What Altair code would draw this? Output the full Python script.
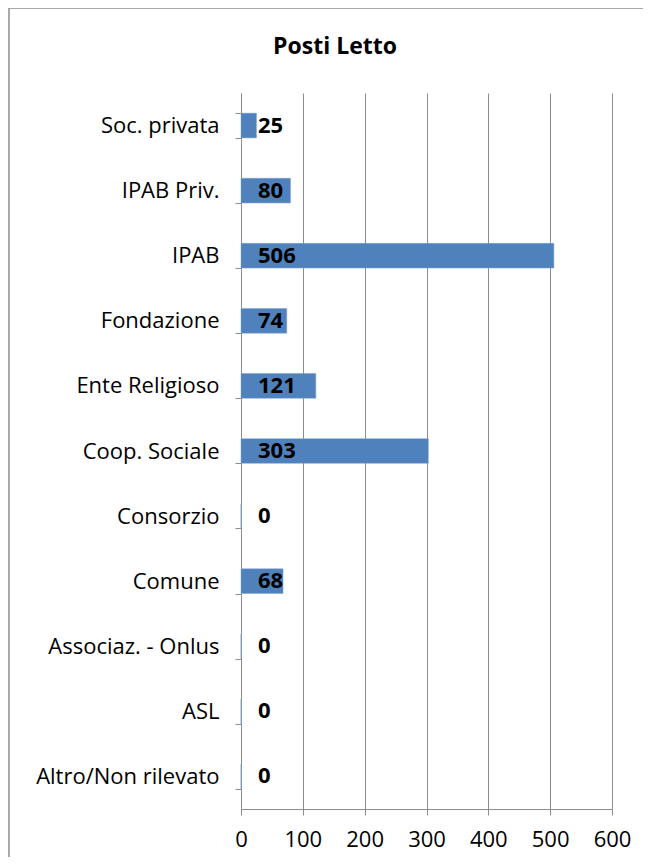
import altair as alt
import pandas as pd

categories = ["Soc. privata", "IPAB Priv.", "IPAB", "Fondazione", "Ente Religioso",
              "Coop. Sociale", "Consorzio", "Comune", "Associaz. - Onlus", "ASL",
              "Altro/Non rilevato"]
values = [25, 80, 506, 74, 121, 303, 0, 68, 0, 0, 0]
x_ticks = [0, 100, 200, 300, 400, 500, 600]
title_text = "Posti Letto"

df = pd.DataFrame({"cat": categories, "val": values})

FONT = "Open Sans"
GRAY = "#8c8c8c"
FS = 22

y_enc = alt.Y("cat:N", sort=categories,
              scale=alt.Scale(paddingInner=0.62, paddingOuter=0.31),
              axis=alt.Axis(title=None, tickBand="extent", tickSize=6, tickColor=GRAY,
                            domainColor=GRAY, labelFontSize=FS, labelFont=FONT,
                            labelColor="#000000", labelPadding=16, grid=False,
                            labelLimit=400))
x_enc = alt.X("val:Q", scale=alt.Scale(domain=[0, 600], nice=False),
              axis=alt.Axis(title=None, values=x_ticks, tickSize=6, tickColor=GRAY,
                            domainColor=GRAY, gridColor=GRAY, grid=True,
                            labelFontSize=FS, labelFont=FONT, labelColor="#000000",
                            labelPadding=14, labelFlush=False))

bars = alt.Chart(df).mark_bar(color="#4F81BD", stroke="#7fa3d0", strokeWidth=0.5).encode(
    y=y_enc, x=x_enc)

labels = alt.Chart(df).mark_text(align="left", baseline="middle", dx=17, fontSize=FS,
                                 fontWeight="bold", font=FONT, color="#000000").encode(
    y=alt.Y("cat:N", sort=categories),
    x=alt.datum(0),
    text="val:Q")

title = alt.Chart(pd.DataFrame({"t": [title_text]})).mark_text(
    fontSize=23, font=FONT, fontWeight="bold", color="#000000",
    align="center", baseline="middle").encode(
    text="t:N", x=alt.value(94), y=alt.value(-46))

one = pd.DataFrame({"k": [0]})
border_top = alt.Chart(one).mark_rule(color=GRAY, strokeWidth=1.5).encode(
    x=alt.value(-232), x2=alt.value(402), y=alt.value(-85))
border_left = alt.Chart(one).mark_rule(color=GRAY, strokeWidth=1.5).encode(
    x=alt.value(-232), y=alt.value(-85), y2=alt.value(764))

chart = alt.layer(border_top, border_left, bars, labels, title).properties(
    width=371, height=716,
    autosize=alt.AutoSizeParams(type="none"),
    padding={"left": 233, "top": 85, "right": 31, "bottom": 48},
    background="white",
).configure_view(stroke=None)

chart.save("out.html", embed_options={"renderer": "svg", "actions": False})
